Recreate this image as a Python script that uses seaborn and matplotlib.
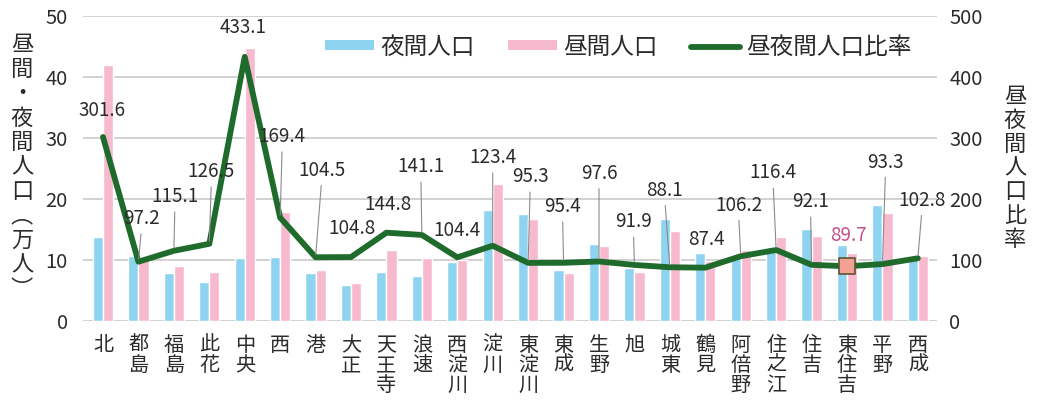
import numpy as np
import pandas as pd
import matplotlib
matplotlib.use("Agg")
import matplotlib.pyplot as plt
from matplotlib.patches import Patch
from matplotlib.lines import Line2D
from matplotlib import font_manager
import seaborn as sns

# ---------------- data ----------------
districts = ["北", "都島", "福島", "此花", "中央", "西", "港", "大正", "天王寺", "浪速",
             "西淀川", "淀川", "東淀川", "東成", "生野", "旭", "城東", "鶴見", "阿倍野",
             "住之江", "住吉", "東住吉", "平野", "西成"]
night_pop = [13.8, 10.7, 7.8, 6.45, 10.35, 10.5, 7.9, 5.9, 8.0, 7.3,
             9.6, 18.2, 17.5, 8.3, 12.6, 8.7, 16.8, 11.2, 10.9,
             11.8, 15.1, 12.5, 19.0, 10.4]
day_pop = [42.0, 10.4, 9.0, 8.1, 44.8, 17.8, 8.3, 6.2, 11.6, 10.3,
           10.0, 22.5, 16.7, 7.9, 12.3, 8.0, 14.8, 9.8, 11.6,
           13.7, 13.9, 11.2, 17.7, 10.7]
ratio = [301.6, 97.2, 115.1, 126.5, 433.1, 169.4, 104.5, 104.8, 144.8, 141.1,
         104.4, 123.4, 95.3, 95.4, 97.6, 91.9, 88.1, 87.4, 106.2,
         116.4, 92.1, 89.7, 93.3, 102.8]
series_names = ["夜間人口", "昼間人口", "昼夜間人口比率"]
highlight = "東住吉"

# ---------------- layout / style ----------------
# label offsets in pixels (dx, dy) and whether a leader line is drawn
label_layout = [(-1, 27, False), (3, 43, True), (1, 54, True), (2, 72, True), (-2, 29, False),
                (2, 81, True), (6, 87, True), (1, 29, False), (2, 28, False), (-1, 68, True),
                (0, 27, False), (0, 88, True), (2, 86, True), (-1, 56, True), (0, 88, True),
                (-1, 43, True), (-5, 77, True), (1, 28, False), (-2, 51, True), (-3, 77, True),
                (-1, 63, True), (1, 31, False), (3, 102, True), (4, 58, True)]

BLUE = "#8ed4f0"
PINK = "#f7b9cd"
GREEN = "#1f6b2c"
GRID = "#c9c9c9"
TXT = "#2b2b2b"
JP = "Noto Sans CJK JP"


def available(name):
    try:
        font_manager.findfont(font_manager.FontProperties(family=name),
                              fallback_to_default=False)
        return True
    except Exception:
        return False


NUM = "Liberation Sans Narrow" if available("Liberation Sans Narrow") else JP
num_scale = 1.0 if NUM != JP else 0.85

sns.set_theme(style="white")
plt.rcParams["font.family"] = [JP, "DejaVu Sans"]

fig = plt.figure(figsize=(10.43, 4.01), dpi=100)
ax = fig.add_axes([83 / 1043, 1 - 321 / 401, (937 - 83) / 1043, (321 - 16) / 401])

df = pd.DataFrame({
    "district": districts * 2,
    "type": [series_names[0]] * len(districts) + [series_names[1]] * len(districts),
    "value": night_pop + day_pop,
})
sns.barplot(data=df, x="district", y="value", hue="type", order=districts,
            hue_order=series_names[:2], palette=[BLUE, PINK], width=0.57, gap=0,
            saturation=1, legend=False, ax=ax, zorder=2)

ax.set_ylim(0, 50)
ax.set_xlim(-0.565, len(districts) - 1 + 0.54)
ax.set_yticks(np.arange(0, 51, 10))
ax.yaxis.grid(True, color=GRID, lw=1.2, zorder=0)
ax.set_axisbelow(True)
for s in ax.spines.values():
    s.set_visible(False)
ax.set_xlabel("")
ax.set_ylabel("")
ax.set_xticks(range(len(districts)))
ax.set_xticklabels(["\n".join(d) for d in districts], linespacing=0.95,
                    fontsize=14.5, color=TXT)
ax.tick_params(axis="x", length=0, pad=10)
ax.tick_params(axis="y", length=0, pad=11, labelcolor=TXT)
for t in ax.get_yticklabels():
    t.set_fontfamily(NUM)
    t.set_fontsize(17 * num_scale)

# ratio line on twin axis
ax2 = ax.twinx()
xpos = np.arange(len(districts))
sns.lineplot(x=xpos, y=ratio, ax=ax2, color=GREEN, linewidth=4.2, zorder=3)
hi = districts.index(highlight)
sns.scatterplot(x=[xpos[hi]], y=[ratio[hi]], ax=ax2, marker="s", s=130,
                color="#f3a192", edgecolor="#5b5533", linewidth=1.2, zorder=4)
ax2.set_ylim(0, 500)
ax2.set_yticks(np.arange(0, 501, 100))
ax2.tick_params(axis="y", length=0, pad=9, labelcolor=TXT)
for t in ax2.get_yticklabels():
    t.set_fontfamily(NUM)
    t.set_fontsize(17 * num_scale)
for s in ax2.spines.values():
    s.set_visible(False)
ax2.set_ylabel("")

# value labels
for i, (v, (dx, dy, leader)) in enumerate(zip(ratio, label_layout)):
    col = "#c8508a" if districts[i] == highlight else TXT
    kw = {}
    if leader:
        kw["arrowprops"] = dict(arrowstyle="-", color="#8a8a8a", lw=0.8,
                                shrinkA=1, shrinkB=2, relpos=(0.5, 0))
    ax2.annotate(f"{v:.1f}", xy=(xpos[i], v), xytext=(dx, dy),
                 textcoords="offset pixels", ha="center", va="center",
                 fontsize=16 * num_scale, family=NUM, color=col, zorder=5, **kw)

# legend
handles = [Patch(facecolor=BLUE, edgecolor="none"),
           Patch(facecolor=PINK, edgecolor="none"),
           Line2D([0], [0], color=GREEN, lw=4.2)]
leg = ax2.legend(handles, series_names, ncol=3, loc="center left",
                 bbox_to_anchor=(0.272, 0.898), frameon=False, fontsize=17,
                 handlelength=2.1, handleheight=0.3, handletextpad=0.25,
                 columnspacing=1.4, borderaxespad=0)
for t in leg.get_texts():
    t.set_color(TXT)

# axis titles (vertical, upright characters)
fig.text(22 / 1043, 1 - 167 / 401, "\n".join("昼間・夜間人口︵万人︶"),
         ha="center", va="center", fontsize=16, linespacing=1.08, color=TXT)
fig.text(1015 / 1043, 1 - 168 / 401, "\n".join("昼夜間人口比率"),
         ha="center", va="center", fontsize=16, linespacing=1.04, color=TXT)

fig.savefig("out.png", dpi=100)
